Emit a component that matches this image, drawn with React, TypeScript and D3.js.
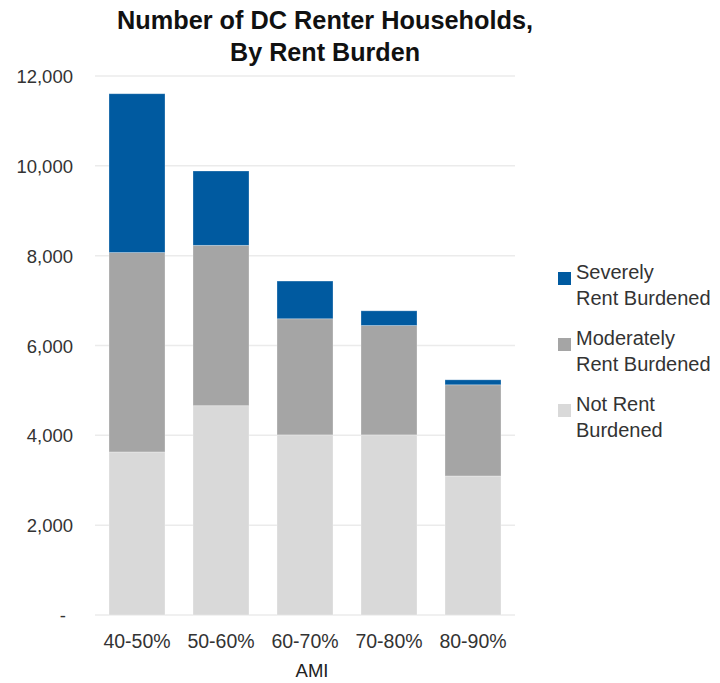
import React from "react";
import * as d3 from "d3";

const categories = ["40-50%", "50-60%", "60-70%", "70-80%", "80-90%"];
const notBurdened = [3630, 4660, 4010, 4010, 3095];
const moderatelyBurdened = [4440, 3570, 2585, 2435, 2030];
const severelyBurdened = [3535, 1655, 840, 327, 111];
const yTicks = [0, 2000, 4000, 6000, 8000, 10000, 12000];
const seriesKeys = ["not", "moderate", "severe"];
const seriesColors = ["#D9D9D9", "#A5A5A5", "#005AA0"];
const legendLabels = [
  ["Severely", "Rent Burdened"],
  ["Moderately", "Rent Burdened"],
  ["Not Rent", "Burdened"],
];
const legendColors = ["#005AA0", "#A5A5A5", "#D9D9D9"];

const W = 720;
const H = 683;
const plotLeft = 95;
const plotRight = 515;
const plotTop = 76;
const plotBottom = 615;
const bodyFont = "'Liberation Sans', Arial, sans-serif";

export default function App() {
  const rows = categories.map((c, i) => ({
    cat: c,
    not: notBurdened[i],
    moderate: moderatelyBurdened[i],
    severe: severelyBurdened[i],
  }));
  const stacked = d3.stack<any>().keys(seriesKeys)(rows);
  const x = d3
    .scaleBand<string>()
    .domain(categories)
    .range([plotLeft, plotRight])
    .paddingInner(1 / 3)
    .paddingOuter(1 / 6);
  const y = d3.scaleLinear().domain([0, 12000]).range([plotBottom, plotTop]);
  const fmt = d3.format(",");

  return (
    <svg
      width={W}
      height={H}
      style={{ position: "absolute", left: 0, top: 0, background: "#fff" }}
    >
      <rect x={0} y={0} width={W} height={H} fill="#fff" />
      <g fontFamily="'Liberation Sans Narrow', 'Liberation Sans', Arial, sans-serif" fontWeight="bold" fontSize={26} fill="#111">
        <text x={325} y={28.5} textAnchor="middle" textLength={416} lengthAdjust="spacingAndGlyphs">
          Number of DC Renter Households,
        </text>
        <text x={325} y={61} textAnchor="middle" textLength={190} lengthAdjust="spacingAndGlyphs">
          By Rent Burden
        </text>
      </g>
      {yTicks.map((t) => (
        <g key={t}>
          <line
            x1={plotLeft}
            x2={plotRight}
            y1={y(t)}
            y2={y(t)}
            stroke="#EBEBEB"
            strokeWidth={1.5}
          />
          <text
            x={t === 0 ? 66 : 73}
            y={y(t) + 7}
            textAnchor="end"
            fontFamily={bodyFont}
            fontSize={18.5}
            fill="#333"
          >
            {t === 0 ? "-" : fmt(t)}
          </text>
        </g>
      ))}
      {stacked.map((s, si) => (
        <g key={s.key} fill={seriesColors[si]}>
          {s.map((d, i) => (
            <rect
              key={i}
              x={x(categories[i])}
              y={y(d[1])}
              width={x.bandwidth()}
              height={y(d[0]) - y(d[1])}
              stroke="#ffffff"
              strokeOpacity={0.35}
              strokeWidth={0.8}
            />
          ))}
        </g>
      ))}
      {categories.map((c) => (
        <text
          key={c}
          x={(x(c) as number) + x.bandwidth() / 2}
          y={648}
          textAnchor="middle"
          fontFamily={bodyFont}
          fontSize={19.5}
          fill="#333"
        >
          {c}
        </text>
      ))}
      <text x={312} y={677} textAnchor="middle" fontFamily={bodyFont} fontSize={18.5} fill="#222">
        AMI
      </text>
      {legendLabels.map((lines, i) => {
        const base = 279 + i * 66;
        return (
          <g key={i}>
            <rect x={558} y={base - 7} width={13} height={13} fill={legendColors[i]} />
            {lines.map((ln, j) => (
              <text
                key={j}
                x={576}
                y={base + j * 26}
                fontFamily={bodyFont}
                fontSize={20}
                fill="#333"
              >
                {ln}
              </text>
            ))}
          </g>
        );
      })}
    </svg>
  );
}
